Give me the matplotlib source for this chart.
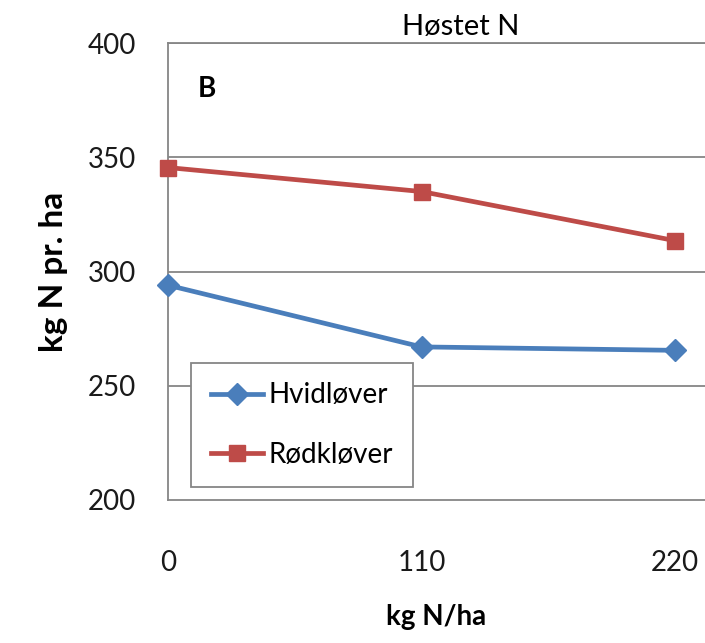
import matplotlib
matplotlib.use("Agg")
import matplotlib.pyplot as plt

# Harvested N for the two clover species at three N levels
n_levels = [0, 110, 220]
hvidklover = [294, 267, 265.5]
rodklover = [345.5, 335, 313.5]
series_names = ["Hvidløver", "Rødkløver"]
y_ticks = [200, 250, 300, 350, 400]

plt.rcParams['font.family'] = ['Lato', 'DejaVu Sans']

fig = plt.figure(figsize=(7.05, 6.43), dpi=100)
ax = fig.add_axes([0.2383, 0.2224, 0.7617, 0.7107])

grid_col = '#868686'
blue = '#4A7EBB'
red = '#BE4B48'

ax.plot(n_levels, hvidklover, color=blue, lw=3.4, marker='D', ms=11,
        label=series_names[0], clip_on=False, zorder=3)
ax.plot(n_levels, rodklover, color=red, lw=3.4, marker='s', ms=12,
        label=series_names[1], clip_on=False, zorder=3)

ax.set_xlim(0, 233)
ax.set_ylim(200, 400)
ax.set_xticks(n_levels)
ax.set_yticks(y_ticks)
ax.tick_params(axis='x', length=0, pad=36, labelsize=20, labelcolor='#1a1a1a')
ax.tick_params(axis='y', length=0, pad=23, labelsize=20, labelcolor='#1a1a1a')

for y in y_ticks[1:]:
    ax.axhline(y, color=grid_col, lw=1.3, zorder=0)

for side in ['left', 'bottom', 'top']:
    ax.spines[side].set_color(grid_col)
    ax.spines[side].set_linewidth(1.3)
ax.spines['right'].set_visible(False)

ax.set_ylabel("kg N pr. ha", fontsize=24, fontweight='bold', labelpad=14)
ax.set_xlabel("kg N/ha", fontsize=20, fontweight='bold', labelpad=20)
ax.set_title("Høstet N", fontsize=21, pad=6, x=0.545)

ax.text(0.055, 0.9, "B", transform=ax.transAxes, fontsize=20,
        fontweight='bold', va='center', ha='left')

leg = ax.legend(loc='lower left', bbox_to_anchor=(0.043, 0.028),
                borderaxespad=0, fancybox=False, framealpha=1,
                edgecolor=grid_col, fontsize=20, handlelength=1.9,
                handletextpad=0.2, labelspacing=1.2, borderpad=0.7)
leg.get_frame().set_linewidth(1.3)

fig.savefig("out.png", dpi=100)
